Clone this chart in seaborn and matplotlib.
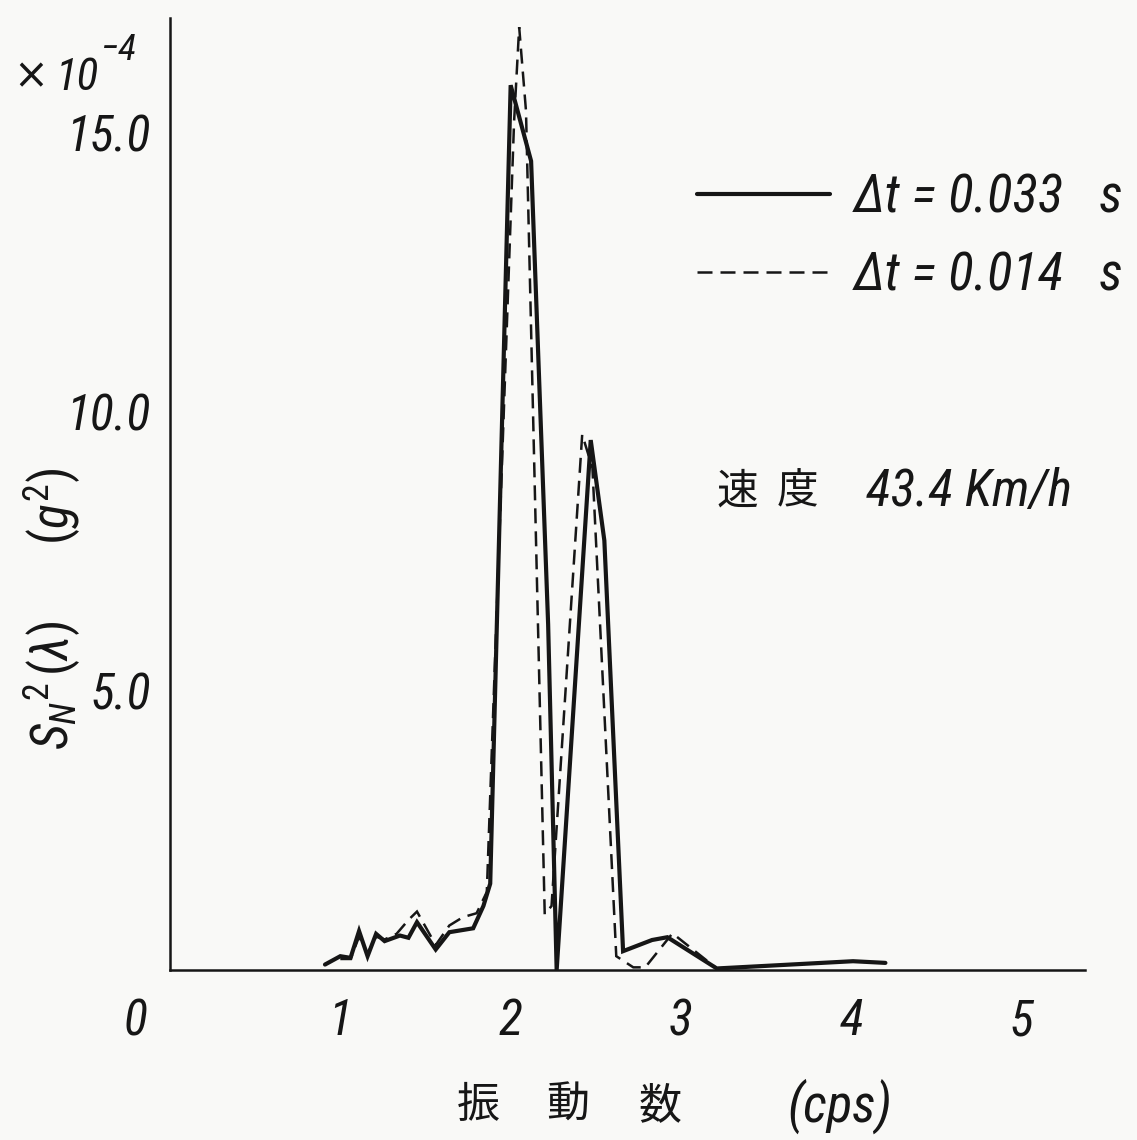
import matplotlib
matplotlib.use("Agg")
import matplotlib.pyplot as plt
import matplotlib.transforms as mtransforms
from matplotlib import font_manager
from matplotlib.lines import Line2D
import pandas as pd
import seaborn as sns

# Spectrum S_N^2(lambda) [x10^-4 g^2] against frequency [cps]
freq_033 = [0.91, 1.00, 1.06, 1.11, 1.16, 1.21, 1.26, 1.35, 1.40, 1.45, 1.56, 1.64,
            1.78, 1.84, 1.88, 2.00, 2.12, 2.22, 2.27, 2.47, 2.55, 2.66, 2.83, 2.92,
            3.21, 3.58, 4.01, 4.20]
spec_033 = [0.10, 0.25, 0.22, 0.70, 0.25, 0.65, 0.52, 0.62, 0.58, 0.86, 0.37, 0.68,
            0.75, 1.15, 1.55, 15.86, 14.50, 6.20, 0.00, 9.50, 7.70, 0.34, 0.54, 0.59,
            0.03, 0.09, 0.16, 0.13]

freq_014 = [1.00, 1.06, 1.11, 1.16, 1.21, 1.26, 1.33, 1.40, 1.45, 1.56, 1.64, 1.72,
            1.80, 1.86, 2.02, 2.05, 2.09, 2.20, 2.24, 2.42, 2.48, 2.62, 2.72, 2.79,
            2.95, 3.21, 3.58, 4.01, 4.20]
spec_014 = [0.20, 0.20, 0.60, 0.30, 0.60, 0.55, 0.65, 0.90, 1.05, 0.45, 0.80, 0.95,
            1.02, 1.40, 15.20, 16.90, 15.40, 1.00, 1.15, 9.60, 9.00, 0.25, 0.05, 0.05,
            0.66, 0.03, 0.09, 0.16, 0.13]

series_labels = ["Δt = 0.033   s", "Δt = 0.014   s"]
x_ticks = [1, 2, 3, 4, 5]
x_ticklabels = ["1", "2", "3", "4", "5"]
y_ticks = [5.0, 10.0, 15.0]
y_ticklabels = ["5.0", "10.0", "15.0"]

sns.set_theme(style="white")

# prefer a narrow face for the Latin lettering when one is available
installed = {f.name for f in font_manager.fontManager.ttflist}
narrow = next((n for n in ["Liberation Sans Narrow", "Roboto Condensed",
                           "Open Sans Condensed", "Arial Narrow"] if n in installed), None)
LATIN = narrow if narrow else "Liberation Sans"
k = 1.12 if narrow else 1.0
LAT = [LATIN, "DejaVu Sans"]
CJK = ["Noto Sans CJK JP", "DejaVu Sans"]
plt.rcParams["font.family"] = LAT
plt.rcParams["mathtext.fontset"] = "custom"
plt.rcParams["mathtext.rm"] = LATIN
plt.rcParams["mathtext.it"] = LATIN + ":italic"

ink = "#161616"
paper = "#f9f9f7"

fig = plt.figure(figsize=(11.37, 11.40), dpi=100, facecolor=paper)
ax = fig.add_axes([0.1495, 0.149, 0.8045, 0.835])
ax.set_facecolor(paper)

df_a = pd.DataFrame({"freq": freq_033, "spec": spec_033})
df_b = pd.DataFrame({"freq": freq_014, "spec": spec_014})

sns.lineplot(data=df_a, x="freq", y="spec", ax=ax, color=ink, linewidth=3.0,
             estimator=None, sort=False)
sns.lineplot(data=df_b, x="freq", y="spec", ax=ax, color=ink, linewidth=1.8,
             estimator=None, sort=False)
ax.lines[1].set_dashes([6, 3.2])
for ln in ax.lines:
    ln.set_solid_joinstyle("miter")
    ln.set_dash_joinstyle("miter")

ax.set_xlim(0, 5.37)
ax.set_ylim(0, 17.06)

for side in ["top", "right"]:
    ax.spines[side].set_visible(False)
for side in ["left", "bottom"]:
    ax.spines[side].set_color(ink)
    ax.spines[side].set_linewidth(1.8)

tick_fs = 32 * k
ax.set_xticks(x_ticks)
ax.set_xticklabels(x_ticklabels, fontsize=tick_fs, style="italic", color=ink)
ax.set_yticks(y_ticks)
ax.set_yticklabels(y_ticklabels, fontsize=tick_fs, style="italic", color=ink)
ax.tick_params(axis="x", direction="in", length=14, width=1.5, colors=ink, pad=20,
               labelcolor=ink)
ax.tick_params(axis="y", direction="in", length=12, width=1.5, colors=ink, pad=14,
               labelcolor=ink)
ax.set_xlabel("")
ax.set_ylabel("")

# origin label sits left of the vertical axis
trans = mtransforms.blended_transform_factory(ax.transData, ax.transAxes)
ax.text(-0.205, -0.0546, "0", transform=trans, fontsize=tick_fs, style="italic",
        color=ink, ha="center", va="center")

# scale factor
fig.text(31 / 1137, 1 - 76 / 1140, "×", family=["DejaVu Sans"], fontsize=30,
         color=ink, ha="center", va="center")
fig.text(56 / 1137, 1 - 78 / 1140, "10", fontsize=29 * k, style="italic",
         color=ink, ha="left", va="center")
fig.text(101 / 1137, 1 - 50 / 1140, "−4", fontsize=24 * k, style="italic",
         color=ink, ha="left", va="center")

# y axis title
fig.text(52 / 1137, 1 - 685 / 1140, r"$S_N{}^2\,(\lambda)$", fontsize=33 * k,
         rotation=90, color=ink, ha="center", va="center")
fig.text(52 / 1137, 1 - 506 / 1140, r"$(g^2)$", fontsize=33 * k,
         rotation=90, color=ink, ha="center", va="center")

# x axis title
for ch, px in zip(["振", "動", "数"], [478, 568, 660]):
    fig.text(px / 1137, 1 - 1106 / 1140, ch, family=CJK, fontsize=31, color=ink,
             ha="center", va="center")
fig.text(787 / 1137, 1 - 1106 / 1140, "(cps)", fontsize=34 * k, style="italic",
         color=ink, ha="left", va="center")

# speed annotation
for ch, px in zip(["速", "度"], [737, 798]):
    fig.text(px / 1137, 1 - 492 / 1140, ch, family=CJK, fontsize=30, color=ink,
             ha="center", va="center")
fig.text(866 / 1137, 1 - 492 / 1140, "43.4 Km/h", fontsize=33 * k, style="italic",
         color=ink, ha="left", va="center")

leg_fs = 34 * k
handles = [Line2D([], [], color=ink, linewidth=3.0),
           Line2D([], [], color=ink, linewidth=1.8, dashes=[6, 3.2])]
leg = ax.legend(handles, series_labels, loc="upper left",
                bbox_to_anchor=(697 / 1137, 1 - 172 / 1140),
                bbox_transform=fig.transFigure, frameon=False, fontsize=leg_fs,
                handlelength=133 / (leg_fs * 100 / 72), handletextpad=0.45,
                labelspacing=0.5, borderaxespad=0, borderpad=0)
for t in leg.get_texts():
    t.set_fontstyle("italic")
    t.set_color(ink)

fig.savefig("out.png", dpi=100, facecolor=paper)
